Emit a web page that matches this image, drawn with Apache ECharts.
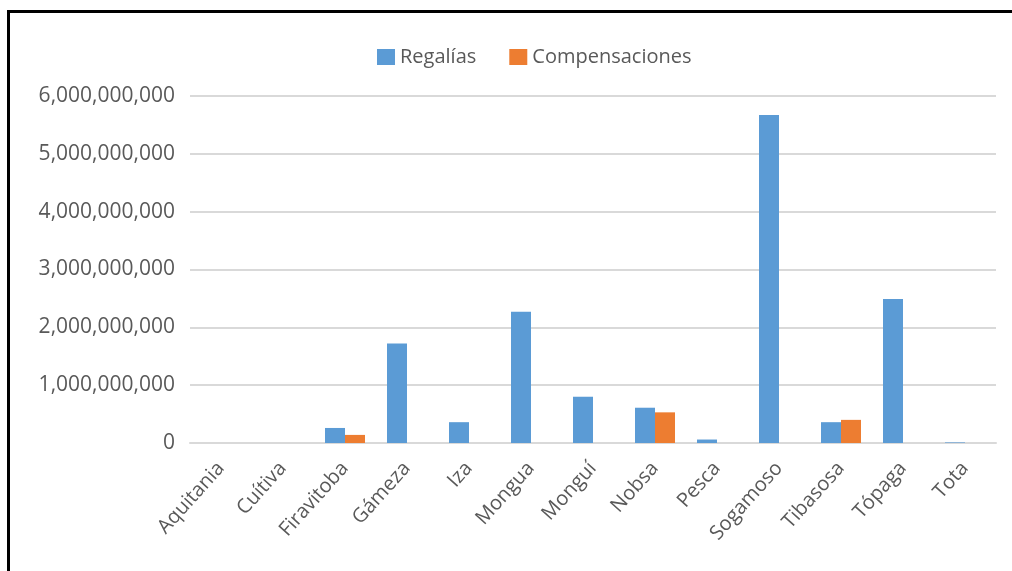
<!DOCTYPE html>
<html>
<head>
<meta charset="utf-8">
<script src="https://cdn.jsdelivr.net/npm/echarts@6/dist/echarts.min.js"></script>
<style>
html,body{margin:0;padding:0;background:#fff;}
#chart{width:1012px;height:571px;position:absolute;left:0;top:0;}
#frame{position:absolute;left:7px;top:10px;width:1020px;height:600px;border-left:3px solid #000;border-top:3px solid #000;pointer-events:none;}
</style>
</head>
<body>
<div id="chart"></div>
<div id="frame"></div>
<script>
const categories = ['Aquitania','Cuítiva','Firavitoba','Gámeza','Iza','Mongua','Monguí','Nobsa','Pesca','Sogamoso','Tibasosa','Tópaga','Tota'];
const regalias = [0, 0, 260000000, 1720000000, 360000000, 2270000000, 800000000, 610000000, 60000000, 5670000000, 360000000, 2490000000, 10000000];
const compensaciones = [0, 0, 140000000, 0, 0, 0, 0, 530000000, 0, 0, 400000000, 0, 0];
const yTicks = [0, 1000000000, 2000000000, 3000000000, 4000000000, 5000000000, 6000000000];

const chart = echarts.init(document.getElementById('chart'));
const font = 'Open Sans';
chart.setOption({
  animation: false,
  textStyle: {fontFamily: font},
  legend: {
    left: 372, top: 42,
    itemWidth: 18, itemHeight: 16, itemGap: 33,
    icon: 'rect',
    textStyle: {color: '#595959', fontSize: 20, fontFamily: font},
    data: ['Regalías', 'Compensaciones']
  },
  grid: {left: 190, right: 16, top: 96, bottom: 128, containLabel: false},
  xAxis: {
    type: 'category',
    data: categories,
    axisLine: {lineStyle: {color: '#D9D9D9', width: 2}},
    axisTick: {show: false},
    axisLabel: {rotate: 48, color: '#595959', fontSize: 20, fontFamily: font, margin: 22, interval: 0}
  },
  yAxis: {
    type: 'value',
    min: yTicks[0], max: yTicks[yTicks.length-1], interval: 1000000000,
    axisLine: {show: false},
    axisTick: {show: false},
    splitLine: {lineStyle: {color: '#D9D9D9', width: 2}},
    axisLabel: {color: '#595959', fontSize: 21, fontFamily: font, margin: 15,
      formatter: v => v.toLocaleString('en-US')}
  },
  series: [
    {name: 'Regalías', type: 'bar', data: regalias, barWidth: 20, barGap: '0%',
      itemStyle: {color: '#5B9BD5'}},
    {name: 'Compensaciones', type: 'bar', data: compensaciones, barWidth: 20, barGap: '0%',
      itemStyle: {color: '#ED7D31'}}
  ]
});
</script>
</body>
</html>
